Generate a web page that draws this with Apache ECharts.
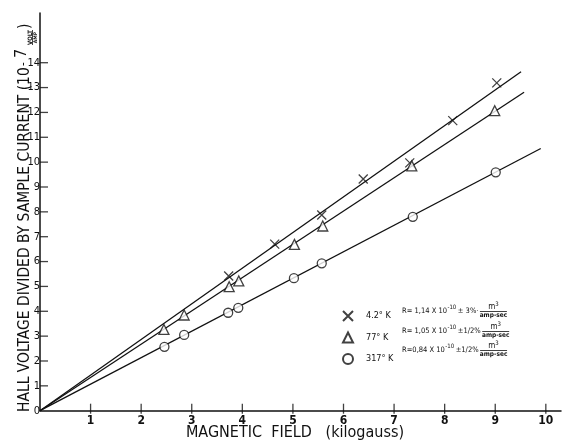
<!DOCTYPE html>
<html><head><meta charset="utf-8">
<script src="https://cdn.jsdelivr.net/npm/echarts@6/dist/echarts.min.js"></script>
<style>html,body{margin:0;padding:0;background:#fff}#c{width:562px;height:445px}</style>
</head><body><div id="c"></div>
<script>
// ---- data ----
const seriesNames = ['4.2° K', '77° K', '317° K'];
const xTickValues = [1, 2, 3, 4, 5, 6, 7, 8, 9, 10];
const yTickValues = [0, 1, 2, 3, 4, 5, 6, 7, 8, 9, 10, 11, 12, 13, 14];
// 4.2 K (crosses)
const field42 = [3.73, 4.64, 5.57, 6.39, 7.31, 8.16, 9.03];
const hall42  = [5.42, 6.70, 7.87, 9.32, 9.97, 11.67, 13.19];
// 77 K (triangles)
const field77 = [2.45, 2.85, 3.74, 3.93, 5.03, 5.59, 7.35, 8.99];
const hall77  = [3.27, 3.85, 4.99, 5.22, 6.69, 7.43, 9.85, 12.07];
// 317 K (circles)
const field317 = [2.46, 2.85, 3.72, 3.92, 5.02, 5.57, 7.37, 9.01];
const hall317  = [2.57, 3.05, 3.94, 4.14, 5.33, 5.93, 7.80, 9.59];
// fitted straight lines (start, end)
const fit42  = [[0, 0], [9.51, 13.64]];
const fit77  = [[0, 0], [9.57, 12.81]];
const fit317 = [[0, 0], [9.90, 10.55]];
const rTexts = ['R= 1,14 X 10', 'R= 1,05 X 10', 'R=0,84 X 10'];
const rExp = '-10';
const rErr = ['± 3%·', '±1/2%', '±1/2%'];

// ---- chart ----
const FONT = "'Liberation Sans Narrow','DejaVu Sans Condensed','Liberation Sans',sans-serif";
const zip = (a, b) => a.map((v, i) => [v, b[i]]);
const chart = echarts.init(document.getElementById('c'), null, {renderer: 'canvas'});

function measure(txt, size) {
  const c = document.createElement('canvas').getContext('2d');
  c.font = size + 'px ' + FONT;
  return c.measureText(txt).width;
}
const fitSize = (txt, w, maxFs) => Math.min(maxFs, 10 * w / measure(txt, 10));
const mainTitle = 'HALL VOLTAGE DIVIDED BY SAMPLE CURRENT (10';
const titleFs = fitSize(mainTitle, 345, 18);

const X_PATH = 'path://M0,0L10,10M10,0L0,10';
const ink = '#111';

const graphics = [
  {type: 'text', x: 25, y: 412, rotation: Math.PI / 2,
   style: {text: mainTitle, font: titleFs + 'px ' + FONT, fill: ink, textAlign: 'left', textVerticalAlign: 'middle'}},
  {type: 'text', x: 24, y: 66, rotation: Math.PI / 2,
   style: {text: '-', font: '12px ' + FONT, fill: ink, textAlign: 'left', textVerticalAlign: 'middle'}},
  {type: 'text', x: 22, y: 58, rotation: Math.PI / 2,
   style: {text: '7', font: '16px ' + FONT, fill: ink, textAlign: 'left', textVerticalAlign: 'middle'}},
  {type: 'text', x: 30, y: 37.5, rotation: Math.PI / 2,
   style: {text: 'VOLT', font: 'bold 6px ' + FONT, fill: ink, textAlign: 'center', textVerticalAlign: 'middle'}},
  {type: 'line', shape: {x1: 32.5, y1: 45, x2: 32.5, y2: 30}, style: {stroke: ink, lineWidth: 0.8}},
  {type: 'text', x: 35.5, y: 37.5, rotation: Math.PI / 2,
   style: {text: 'AMP', font: 'bold 5px ' + FONT, fill: ink, textAlign: 'center', textVerticalAlign: 'middle'}},
  {type: 'text', x: 25, y: 29, rotation: Math.PI / 2,
   style: {text: ')', font: titleFs + 'px ' + FONT, fill: ink, textAlign: 'left', textVerticalAlign: 'middle'}},
  {type: 'text', x: 295, y: 433,
   style: {text: 'MAGNETIC  FIELD   (kilogauss)', font: '16px ' + FONT, fill: ink, textAlign: 'center', textVerticalAlign: 'middle'}}
];
const rowY = [311, 331, 350];
const LFS = 7.5, EFS = 6;
rowY.forEach((y, i) => {
  let x = 402;
  graphics.push({type: 'text', x: x, y: y,
    style: {text: rTexts[i], font: LFS + 'px ' + FONT, fill: ink, textAlign: 'left', textVerticalAlign: 'middle'}});
  x += measure(rTexts[i], LFS) + 0.5;
  graphics.push({type: 'text', x: x, y: y - 3.5,
    style: {text: rExp, font: EFS + 'px ' + FONT, fill: ink, textAlign: 'left', textVerticalAlign: 'middle'}});
  x += measure(rExp, EFS) + 1.5;
  graphics.push({type: 'text', x: x, y: y,
    style: {text: rErr[i], font: LFS + 'px ' + FONT, fill: ink, textAlign: 'left', textVerticalAlign: 'middle'}});
  x = Math.max(x + measure(rErr[i], LFS) + 1.5, 478);
  const fw = measure('amp-sec', 6.5) + 2;
  graphics.push({type: 'text', x: x + fw / 2, y: y - 4.5,
    style: {rich: {a: {fontSize: 8, fontFamily: FONT, fill: ink}, b: {fontSize: 6, fontFamily: FONT, fill: ink, verticalAlign: 'top', padding: [0, 0, 4, 0]}},
      text: '{a|m}{b|3}', textAlign: 'center', textVerticalAlign: 'middle'}});
  graphics.push({type: 'line', shape: {x1: x, y1: y + 0.5, x2: x + fw, y2: y + 0.5}, style: {stroke: ink, lineWidth: 0.8}});
  graphics.push({type: 'text', x: x + fw / 2, y: y + 4.5,
    style: {text: 'amp-sec', font: 'bold 6.5px ' + FONT, fill: ink, textAlign: 'center', textVerticalAlign: 'middle'}});
});

const option = {
  animation: false,
  backgroundColor: '#fff',
  grid: {left: 40, top: 13, right: 1, bottom: 34.3, containLabel: false},
  xAxis: {
    type: 'value', min: 0, max: 10.3, interval: 1,
    axisLine: {show: true, onZero: false, lineStyle: {color: ink, width: 1.5}},
    axisTick: {show: false}, splitLine: {show: false},
    axisLabel: {margin: 4, fontSize: 12, fontFamily: FONT, color: ink, fontWeight: 'bold',
      showMinLabel: false, showMaxLabel: false,
      formatter: v => xTickValues.includes(v) ? String(v) : ''}
  },
  yAxis: {
    type: 'value', min: 0, max: 16, interval: 1,
    axisLine: {show: true, onZero: false, lineStyle: {color: ink, width: 1.5}},
    axisTick: {show: false}, splitLine: {show: false},
    axisLabel: {margin: 0, fontSize: 11, fontFamily: FONT, color: ink,
      showMaxLabel: false,
      formatter: v => yTickValues.includes(v) ? String(v) : ''}
  },
  legend: {
    show: true, orient: 'vertical', left: 337, top: 305, itemWidth: 10, itemHeight: 10, itemGap: 9.5,
    data: seriesNames, selectedMode: false,
    textStyle: {fontSize: 9, fontFamily: FONT, color: ink, padding: [0, 0, 0, 8]}
  },
  graphic: graphics,
  series: [
    {type: 'line', data: fit42, symbol: 'none', silent: true, lineStyle: {color: ink, width: 1.3}, z: 1},
    {type: 'line', data: fit77, symbol: 'none', silent: true, lineStyle: {color: ink, width: 1.3}, z: 1},
    {type: 'line', data: fit317, symbol: 'none', silent: true, lineStyle: {color: ink, width: 1.3}, z: 1},
    {type: 'scatter', data: xTickValues.map(v => [v, 0]), symbol: 'rect', symbolSize: [1.3, 10], symbolOffset: [0, -2], silent: true, itemStyle: {color: ink}, z: 1},
    {type: 'scatter', data: yTickValues.filter(v => v > 0).map(v => [0, v]), symbol: 'rect', symbolSize: [8, 1.3], symbolOffset: [4, 0], silent: true, itemStyle: {color: ink}, z: 1},
    {name: seriesNames[0], type: 'scatter', data: zip(field42, hall42), symbol: X_PATH, symbolSize: 9,
     itemStyle: {color: 'rgba(0,0,0,0)', borderColor: ink, borderWidth: 1.3}, z: 3},
    {name: seriesNames[1], type: 'scatter', data: zip(field77, hall77), symbol: 'triangle', symbolSize: 10,
     itemStyle: {color: '#fff', borderColor: ink, borderWidth: 1.3}, z: 3},
    {name: seriesNames[2], type: 'scatter', data: zip(field317, hall317), symbol: 'circle', symbolSize: 9,
     itemStyle: {color: '#fff', borderColor: ink, borderWidth: 1.3}, z: 3}
  ]
};
chart.setOption(option);
</script>
</body></html>
